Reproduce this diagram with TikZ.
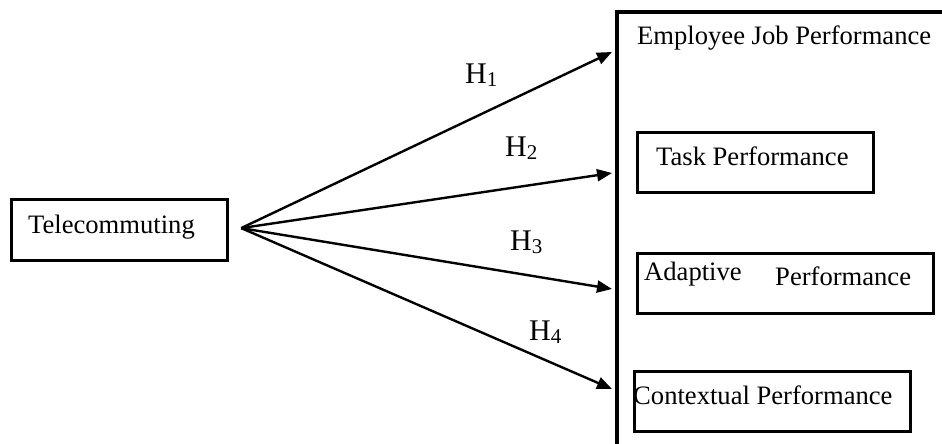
\documentclass[tikz,border=0pt]{standalone}
\usepackage{fontspec}
\setmainfont{Liberation Serif}
\usetikzlibrary{arrows.meta}
\tikzset{
  boxline/.style={draw=black, line width=3.2pt, inner sep=0pt, anchor=north west},
  lbl/.style={inner sep=0pt, anchor=base west, font=\fontsize{26.6}{30}\selectfont},
  hyp/.style={inner sep=0pt, anchor=base west, font=\fontsize{30}{34}\selectfont},
  link/.style={line width=2.4pt, -{Triangle[length=15pt,width=12pt]}},
}
\newcommand{\hsub}[1]{H{\fontsize{21}{24}\selectfont\raisebox{-3pt}{#1}}}
\begin{document}
\begin{tikzpicture}[x=1pt,y=-1pt]
\useasboundingbox[fill=white] (0,0) rectangle (942,444);
% outer container (only left and top edges visible)
\draw[line width=3.2pt] (617,450) -- (617,12) -- (950,12);
\node[lbl] (ejp) at (637,45) {Employee Job Performance};
% source box
\node[boxline, minimum width=216pt, minimum height=61pt] (tele) at (10,198) {};
\node[lbl] (teletxt) at (28,233) {Telecommuting};
% target boxes
\node[boxline, minimum width=236pt, minimum height=60pt] (task) at (636,131) {};
\node[lbl] (tasktxt) at (656,165) {Task Performance};
\node[boxline, minimum width=296pt, minimum height=60pt] (adapt) at (636,252) {};
\node[lbl] (adapttxt1) at (644,280) {Adaptive};
\node[lbl] (adapttxt2) at (775,285) {Performance};
\node[boxline, minimum width=276pt, minimum height=60pt] (ctx) at (633,370) {};
\node[lbl] (ctxtxt) at (633,404) {Contextual Performance};
% connectors
\coordinate (src) at ([xshift=12pt,yshift=2pt]tele.east);
\coordinate (e1) at (612,52);
\coordinate (e2) at (612,173);
\coordinate (e3) at (612,289);
\coordinate (e4) at (612,389);
\draw[link] (src) -- (e1);
\draw[link] (src) -- (e2);
\draw[link] (src) -- (e3);
\draw[link] (src) -- (e4);
% labels
\node[hyp] (h1) at (465,83) {\hsub{1}};
\node[hyp] (h2) at (505,156) {\hsub{2}};
\node[hyp] (h3) at (510,250) {\hsub{3}};
\node[hyp] (h4) at (529,340) {\hsub{4}};
\end{tikzpicture}
\end{document}
